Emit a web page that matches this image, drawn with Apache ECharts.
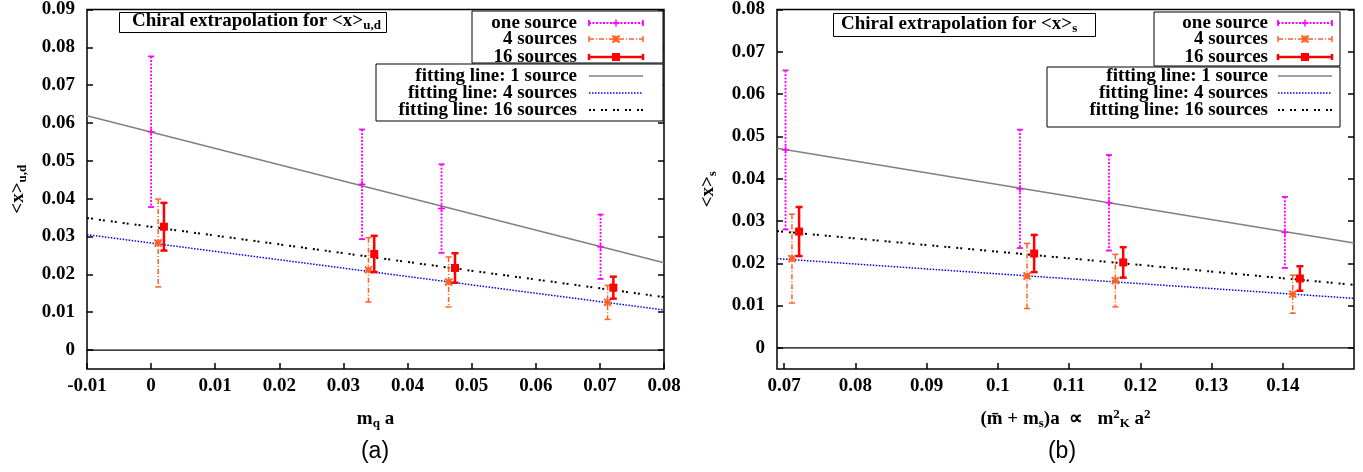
<!DOCTYPE html>
<html><head><meta charset="utf-8">
<script src="https://cdn.jsdelivr.net/npm/echarts@6/dist/echarts.min.js"></script>
<style>html,body{margin:0;padding:0;background:#fff}#c{width:1363px;height:472px}</style>
</head><body><div id="c"></div>
<script>
// ---------- Panel (a): <x>u,d vs m_q a ----------
const udX1 = [0.0, 0.0329, 0.0453, 0.0701];
const udY1 = [0.0577, 0.0438, 0.0374, 0.0273];
const udE1 = [0.0199, 0.0145, 0.0117, 0.0085];
const udX4 = [0.0011, 0.0339, 0.0464, 0.0712];
const udY4 = [0.0283, 0.0212, 0.0180, 0.0126];
const udE4 = [0.0116, 0.0085, 0.0066, 0.0045];
const udX16 = [0.0020, 0.0348, 0.0474, 0.0721];
const udY16 = [0.0326, 0.0254, 0.0217, 0.0165];
const udE16 = [0.0063, 0.0048, 0.0039, 0.0029];
const udFitX = [-0.01, 0.08];
const udFit1 = [0.0619, 0.0231];
const udFit4 = [0.0305, 0.0106];
const udFit16 = [0.0349, 0.0140];
const udXTicks = [-0.01, 0, 0.01, 0.02, 0.03, 0.04, 0.05, 0.06, 0.07, 0.08];
const udYTicks = [0, 0.01, 0.02, 0.03, 0.04, 0.05, 0.06, 0.07, 0.08, 0.09];

// ---------- Panel (b): <x>s vs (m+ms)a ----------
const sX1 = [0.0702, 0.1031, 0.1156, 0.1403];
const sY1 = [0.0468, 0.0376, 0.0343, 0.0273];
const sE1 = [0.0188, 0.0140, 0.0113, 0.0084];
const sX4 = [0.0711, 0.1041, 0.1165, 0.1414];
const sY4 = [0.0211, 0.0170, 0.0159, 0.0127];
const sE4 = [0.0105, 0.0077, 0.0062, 0.0045];
const sX16 = [0.0721, 0.1051, 0.1176, 0.1424];
const sY16 = [0.0275, 0.0223, 0.0202, 0.0164];
const sE16 = [0.0058, 0.0044, 0.0036, 0.0029];
const sFitX = [0.069, 0.15];
const sFit1 = [0.0472, 0.0248];
const sFit4 = [0.0211, 0.0117];
const sFit16 = [0.0276, 0.0149];
const sXTicks = [0.07, 0.08, 0.09, 0.1, 0.11, 0.12, 0.13, 0.14];
const sYTicks = [0, 0.01, 0.02, 0.03, 0.04, 0.05, 0.06, 0.07, 0.08];

const legendData = ['one source', '4 sources', '16 sources'];
const legendFit = ['fitting line: 1 source', 'fitting line: 4 sources', 'fitting line: 16 sources'];

const SERIF = "'Liberation Serif', 'Times New Roman', serif";
const C_MAG = '#ff00ff', C_ORG = '#ff6020', C_RED = '#ff0000', C_BLUE = '#0000ff', C_GRAY = '#808080';

const styles = {
  one: {color: C_MAG, lw: 1.8, dash: [2, 1.5], marker: 'plus', cap: 3},
  four: {color: C_ORG, lw: 1.5, dash: [5, 2, 1, 2], marker: 'star', cap: 3},
  sixteen: {color: C_RED, lw: 2.5, dash: null, marker: 'square', cap: 3.5}
};
const fitStyles = [
  {color: C_GRAY, width: 1.5, type: 'solid'},
  {color: C_BLUE, width: 1.5, type: [1.5, 1.5]},
  {color: '#000', width: 2, type: [2, 2, 2, 6]}
];

function markerEls(kind, cx, cy, color) {
  if (kind === 'square') {
    return [{type: 'rect', shape: {x: cx - 4, y: cy - 4, width: 8, height: 8}, style: {fill: color}}];
  }
  const s = 3.5, st = {stroke: color, lineWidth: 1.5};
  const els = [
    {type: 'line', shape: {x1: cx - s, y1: cy, x2: cx + s, y2: cy}, style: st},
    {type: 'line', shape: {x1: cx, y1: cy - s, x2: cx, y2: cy + s}, style: st}
  ];
  if (kind === 'star') {
    els.push({type: 'line', shape: {x1: cx - s, y1: cy - s, x2: cx + s, y2: cy + s}, style: {stroke: color, lineWidth: 2}});
    els.push({type: 'line', shape: {x1: cx - s, y1: cy + s, x2: cx + s, y2: cy - s}, style: {stroke: color, lineWidth: 2}});
  }
  return els;
}

function errRender(st) {
  return function (params, api) {
    const x = api.value(0), y = api.value(1), e = api.value(2);
    const pc = api.coord([x, y]);
    const pt = api.coord([x, y + e]);
    const pb = api.coord([x, y - e]);
    const ls = {stroke: st.color, lineWidth: st.lw, lineDash: st.dash};
    const cs = {stroke: st.color, lineWidth: st.lw};
    const children = [
      {type: 'line', shape: {x1: pc[0], y1: pt[1], x2: pc[0], y2: pb[1]}, style: ls},
      {type: 'line', shape: {x1: pc[0] - st.cap, y1: pt[1], x2: pc[0] + st.cap, y2: pt[1]}, style: cs},
      {type: 'line', shape: {x1: pc[0] - st.cap, y1: pb[1], x2: pc[0] + st.cap, y2: pb[1]}, style: cs}
    ].concat(markerEls(st.marker, pc[0], pc[1], st.color));
    return {type: 'group', children: children};
  };
}

function zip3(a, b, c) { return a.map((v, i) => [v, b[i], c[i]]); }
function errSeries(name, xs, ys, es, st, gi) {
  return {
    name: name, type: 'custom', xAxisIndex: gi, yAxisIndex: gi * 2,
    data: zip3(xs, ys, es), encode: {x: 0, y: 1}, renderItem: errRender(st), z: 5, silent: true
  };
}
function fitSeries(name, xs, ys, fs, gi) {
  return {
    name: name, type: 'line', xAxisIndex: gi, yAxisIndex: gi * 2, symbol: 'none', silent: true, z: 3,
    data: xs.map((v, i) => [v, ys[i]]),
    lineStyle: {color: fs.color, width: fs.width, type: fs.type}
  };
}
function zeroSeries(xs, gi) {
  return {
    type: 'line', xAxisIndex: gi, yAxisIndex: gi * 2, symbol: 'none', silent: true, z: 2,
    data: xs.map(v => [v, 0]), lineStyle: {color: '#000', width: 1.2}
  };
}

const fmt = v => String(parseFloat(Number(v).toFixed(4)));
const labelStyle = {fontFamily: SERIF, fontWeight: 'bold', fontSize: 19, color: '#000'};
const rich = {
  b: {fontFamily: SERIF, fontWeight: 'bold', fontSize: 19, color: '#000'},
  sub: {fontFamily: SERIF, fontWeight: 'bold', fontSize: 13, color: '#000', padding: [9, 0, 0, 0]},
  sup: {fontFamily: SERIF, fontWeight: 'bold', fontSize: 13, color: '#000', padding: [0, 0, 9, 0]}
};

function xAxisCfg(gi, min, max, ticks, name) {
  return {
    type: 'value', gridIndex: gi, min: min, max: max, position: 'bottom',
    axisLine: {show: false, onZero: false},
    axisTick: {show: true, inside: true, length: 6, customValues: ticks, lineStyle: {color: '#000', width: 1.5}},
    axisLabel: Object.assign({customValues: ticks, formatter: fmt, margin: 8}, labelStyle),
    splitLine: {show: false},
    name: name, nameLocation: 'middle', nameGap: 39,
    nameTextStyle: {rich: rich}
  };
}
function yAxisCfg(gi, min, max, ticks, pos, name) {
  const left = pos === 'left';
  return {
    type: 'value', gridIndex: gi, min: min, max: max, position: pos,
    axisLine: {show: false, onZero: false},
    axisTick: {show: true, inside: true, length: 6, customValues: ticks, lineStyle: {color: '#000', width: 1.5}},
    axisLabel: Object.assign({show: left, customValues: ticks, formatter: fmt, margin: 12}, labelStyle),
    splitLine: {show: false},
    name: left ? name : '', nameLocation: 'middle', nameGap: 58, nameRotate: 90,
    nameTextStyle: {rich: rich}
  };
}

// ---------- legends (graphic) ----------
function legendGraphics(box1, box2, textX, x1, x2, rows1, rows2) {
  const els = [];
  els.push({type: 'rect', shape: box1, style: {fill: '#fff', stroke: '#000', lineWidth: 1}, z: 100});
  els.push({type: 'rect', shape: box2, style: {fill: '#fff', stroke: '#000', lineWidth: 1}, z: 100});
  const errSt = [styles.one, styles.four, styles.sixteen];
  legendData.forEach((t, i) => {
    const y = rows1[i], st = errSt[i];
    els.push({type: 'text', z: 101, style: {text: t, x: textX, y: y, textAlign: 'right', textVerticalAlign: 'middle',
      font: 'bold 19px ' + SERIF, fill: '#000'}});
    els.push({type: 'line', z: 101, shape: {x1: x1, y1: y, x2: x2, y2: y}, style: {stroke: st.color, lineWidth: st.lw, lineDash: st.dash}});
    els.push({type: 'line', z: 101, shape: {x1: x1, y1: y - 3, x2: x1, y2: y + 3}, style: {stroke: st.color, lineWidth: st.lw}});
    els.push({type: 'line', z: 101, shape: {x1: x2, y1: y - 3, x2: x2, y2: y + 3}, style: {stroke: st.color, lineWidth: st.lw}});
    markerEls(st.marker, (x1 + x2) / 2, y, st.color).forEach(m => { m.z = 102; els.push(m); });
  });
  legendFit.forEach((t, i) => {
    const y = rows2[i], fs = fitStyles[i];
    els.push({type: 'text', z: 101, style: {text: t, x: textX, y: y, textAlign: 'right', textVerticalAlign: 'middle',
      font: 'bold 19px ' + SERIF, fill: '#000'}});
    els.push({type: 'line', z: 101, shape: {x1: x1, y1: y, x2: x2, y2: y},
      style: {stroke: fs.color, lineWidth: fs.width, lineDash: fs.type === 'solid' ? null : fs.type}});
  });
  return els;
}

const graphics = []
  .concat(legendGraphics({x: 472, y: 11, width: 191, height: 52}, {x: 376, y: 64, width: 287, height: 57},
    577, 589, 643, [23, 39, 57], [76, 93, 110]))
  .concat(legendGraphics({x: 1154, y: 12, width: 186, height: 54}, {x: 1047, y: 67, width: 293, height: 60},
    1268, 1278, 1332, [23, 39, 57], [76, 93, 110]))
  .concat([
    {type: 'text', z: 101, style: {text: '(a)', x: 375, y: 452, textAlign: 'center', textVerticalAlign: 'middle',
      font: "23px 'Liberation Sans', Arial, sans-serif", fill: '#000'}},
    {type: 'text', z: 101, style: {text: '(b)', x: 1062, y: 452, textAlign: 'center', textVerticalAlign: 'middle',
      font: "23px 'Liberation Sans', Arial, sans-serif", fill: '#000'}}
  ]);

const titleRich = {
  a: {fontFamily: SERIF, fontWeight: 'bold', fontSize: 19, color: '#000', lineHeight: 20},
  s: {fontFamily: SERIF, fontWeight: 'bold', fontSize: 13, color: '#000', padding: [8, 0, 0, 0]}
};

const option = {
  animation: false,
  backgroundColor: '#fff',
  title: [
    {text: '{a|Chiral extrapolation for <x>}{s|u,d}', left: 119, top: 11, padding: [0, 6, 1, 13],
      borderColor: '#000', borderWidth: 1, backgroundColor: '#fff', textStyle: {rich: titleRich}},
    {text: '{a|Chiral extrapolation for <x>}{s|s}', left: 833, top: 12, padding: [2, 19, 2, 8],
      borderColor: '#000', borderWidth: 1, backgroundColor: '#fff', textStyle: {rich: titleRich}}
  ],
  grid: [
    {left: 87, top: 9, width: 577, height: 360, show: true, borderColor: '#000', borderWidth: 1.5, containLabel: false},
    {left: 777, top: 9, width: 577, height: 360, show: true, borderColor: '#000', borderWidth: 1.5, containLabel: false}
  ],
  xAxis: [
    xAxisCfg(0, -0.01, 0.08, udXTicks, '{b|m}{sub|q}{b| a}'),
    xAxisCfg(1, 0.069, 0.15, sXTicks, '{b|(m\u0304 + m}{sub|s}{b|)a  \u221d   m}{sup|2}{sub|K}{b| a}{sup|2}')
  ],
  yAxis: [
    yAxisCfg(0, -0.005, 0.09, udYTicks, 'left', '{b|<x>}{sub|u,d}'),
    yAxisCfg(0, -0.005, 0.09, udYTicks, 'right', ''),
    yAxisCfg(1, -0.005, 0.08, sYTicks, 'left', '{b|<x>}{sub|s}'),
    yAxisCfg(1, -0.005, 0.08, sYTicks, 'right', '')
  ],
  series: [
    zeroSeries(udFitX, 0),
    fitSeries(legendFit[0], udFitX, udFit1, fitStyles[0], 0),
    fitSeries(legendFit[1], udFitX, udFit4, fitStyles[1], 0),
    fitSeries(legendFit[2], udFitX, udFit16, fitStyles[2], 0),
    errSeries(legendData[0], udX1, udY1, udE1, styles.one, 0),
    errSeries(legendData[1], udX4, udY4, udE4, styles.four, 0),
    errSeries(legendData[2], udX16, udY16, udE16, styles.sixteen, 0),
    zeroSeries(sFitX, 1),
    fitSeries(legendFit[0], sFitX, sFit1, fitStyles[0], 1),
    fitSeries(legendFit[1], sFitX, sFit4, fitStyles[1], 1),
    fitSeries(legendFit[2], sFitX, sFit16, fitStyles[2], 1),
    errSeries(legendData[0], sX1, sY1, sE1, styles.one, 1),
    errSeries(legendData[1], sX4, sY4, sE4, styles.four, 1),
    errSeries(legendData[2], sX16, sY16, sE16, styles.sixteen, 1)
  ],
  graphic: graphics
};

const chart = echarts.init(document.getElementById('c'), null, {renderer: 'canvas'});
chart.setOption(option);
</script>
</body></html>
